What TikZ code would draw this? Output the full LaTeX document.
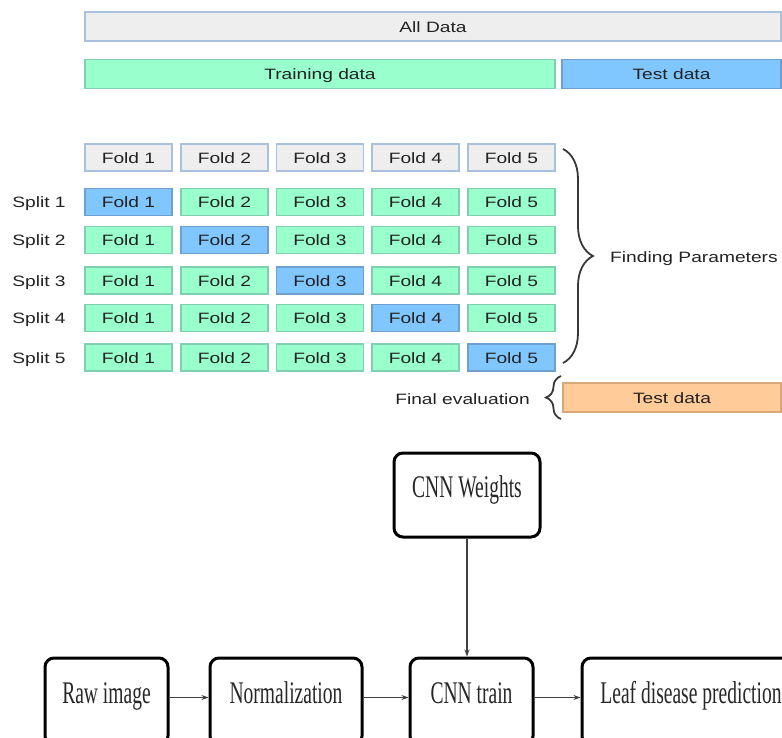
\documentclass[tikz,border=0pt]{standalone}
\usepackage{fontspec}
\setmainfont{Liberation Sans}
\newfontfamily\widesans[FakeStretch=1.28]{Liberation Sans}
\newfontfamily\narrowserif[FakeStretch=0.62]{Liberation Serif}
\usetikzlibrary{decorations.pathreplacing,arrows.meta}
\definecolor{greyfill}{HTML}{EEEEEE}
\definecolor{greyline}{HTML}{A9C1DE}
\definecolor{greenfill}{HTML}{99FFCC}
\definecolor{greenline}{HTML}{80CFAE}
\definecolor{bluefill}{HTML}{80C6FF}
\definecolor{blueline}{HTML}{6E9FD0}
\definecolor{orangefill}{HTML}{FFCC99}
\definecolor{orangeline}{HTML}{D9A878}
\definecolor{txt}{HTML}{222222}
\begin{document}
\begin{tikzpicture}[x=1pt,y=-1pt,
  lab/.style={font=\widesans\fontsize{15}{18}\selectfont, text=txt, inner sep=0pt, text height=11pt, text depth=0pt},
  bar/.style={lab, draw, line width=1.2pt, minimum height=29pt},
  greybox/.style={bar, fill=greyfill, draw=greyline},
  greenbox/.style={bar, fill=greenfill, draw=greenline},
  bluebox/.style={bar, fill=bluefill, draw=blueline},
  orangebox/.style={bar, fill=orangefill, draw=orangeline},
  fold/.style={minimum width=87pt, minimum height=27pt},
  bracestyle/.style={decorate, line width=1.8pt, draw=txt!90},
  flow/.style={draw=black, line width=3pt, rounded corners=9pt, inner xsep=0pt, inner ysep=0pt,
    font=\narrowserif\fontsize{31.5}{36}\selectfont, text=black!85, anchor=base},
  conn/.style={draw=black!75, line width=1.3pt, -{Stealth[length=7pt,width=5pt]}}
]
\useasboundingbox (0,0) rectangle (782,737);

% top bars
\node[greybox, minimum width=696pt] (all) at (433,26.5) {All Data};
\node[greenbox, minimum width=470pt] (train) at (320,74) {Training data};
\node[bluebox, minimum width=219pt] (test) at (671.5,74) {Test data};

% fold grid
\foreach \c/\x in {1/128.5,2/224.5,3/320,4/415.5,5/511.5}{
  \node[greybox, fold] (h\c) at (\x,157.5) {Fold \c};
}
\foreach \r/\y in {1/202,2/240,3/280.5,4/318,5/357.5}{
  \node[lab] (s\r) at (39,\y) {Split \r};
  \foreach \c/\x in {1/128.5,2/224.5,3/320,4/415.5,5/511.5}{
    \ifnum\c=\r
      \node[bluebox, fold] (f\r\c) at (\x,\y) {Fold \c};
    \else
      \node[greenbox, fold] (f\r\c) at (\x,\y) {Fold \c};
    \fi
  }
}

% braces
\coordinate (b1) at (563,149);
\coordinate (b2) at (563,363);
\draw[bracestyle, decoration={brace, amplitude=30pt}] (b1) -- (b2);
\node[lab, anchor=west] (fp) at (610,257) {Finding Parameters};

\node[orangebox, minimum width=218pt] (final) at (672,397.5) {Test data};
\coordinate (c1) at (561,419);
\coordinate (c2) at (561,376);
\draw[bracestyle, decoration={brace, amplitude=15pt}] (c1) -- (c2);
\node[lab, anchor=east] (fe) at (530,399) {Final evaluation};

% flow chart
\node[flow, minimum width=146pt, text height=44pt, text depth=40pt] (w) at (467,497) {CNN Weights};
\node[flow, minimum width=123pt, text height=45pt, text depth=42pt] (raw) at (106.5,703) {Raw image};
\node[flow, minimum width=152pt, text height=45pt, text depth=42pt] (norm) at (286,703) {Normalization};
\node[flow, minimum width=123pt, text height=45pt, text depth=42pt] (cnn) at (471.5,703) {CNN train};
\node[flow, minimum width=218pt, text height=45pt, text depth=42pt] (leaf) at (691,703) {Leaf disease prediction};

\draw[conn] (w.south) -- (w.south |- cnn.north);
\draw[conn] ([yshift=4pt]raw.east) -- ([yshift=4pt]norm.west);
\draw[conn] ([yshift=4pt]norm.east) -- ([yshift=4pt]cnn.west);
\draw[conn] ([yshift=4pt]cnn.east) -- ([yshift=4pt]leaf.west);
\end{tikzpicture}
\end{document}
